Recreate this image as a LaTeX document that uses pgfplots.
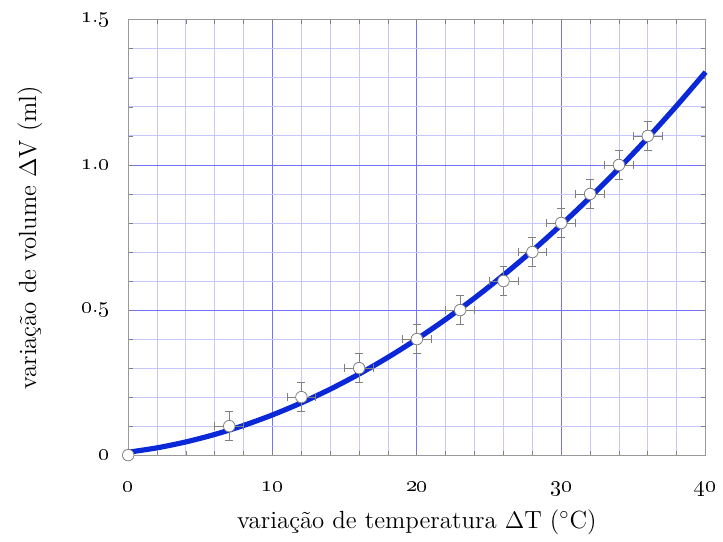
\documentclass[border=0pt]{standalone}
\usepackage{pgfplots}
\pgfplotsset{compat=1.18}
\definecolor{curveblue}{RGB}{10,40,215}
\pgfplotsset{common/.style={
  scale only axis,
  width=290.5pt, height=219pt,
  xmin=0, xmax=40, ymin=0, ymax=1.5,
  clip=false,
  axis line style={gray!80},
  xtick={0,10,20,30,40},
  ytick={0,0.5,1.0,1.5},
  minor x tick num=4, minor y tick num=4,
}}
\begin{document}
\begin{tikzpicture}
\begin{axis}[common,
  grid=both,
  major grid style={blue!55, line width=0.45pt},
  minor grid style={blue!22, line width=0.45pt},
  major tick length=0pt, minor tick length=0pt,
  xticklabels={}, yticklabels={},
]
\end{axis}
\begin{axis}[common,
  xticklabels={\oldstylenums{0},\oldstylenums{10},\oldstylenums{20},\oldstylenums{30},\oldstylenums{40}},
  yticklabels={\oldstylenums{0},\oldstylenums{0}.\oldstylenums{5},\oldstylenums{1}.\oldstylenums{0},\oldstylenums{1}.\oldstylenums{5}},
  tick style={gray, line width=0.4pt},
  major tick length=2.2pt, minor tick length=2.2pt,
  tick align=inside,
  xticklabel style={font=\fontsize{11}{12}\selectfont, yshift=-10pt},
  yticklabel style={font=\fontsize{11}{12}\selectfont, xshift=-6pt},
  xlabel={varia\c{c}\~ao de temperatura $\Delta$T ($^\circ$C)},
  ylabel={varia\c{c}\~ao de volume $\Delta$V (ml)},
  label style={font=\fontsize{12.5}{14}\selectfont},
  xlabel style={at={(axis description cs:0.5,0)}, anchor=north, yshift=-24pt},
  ylabel style={at={(axis description cs:0,0.5)}, anchor=center, yshift=49.5pt},
]
\addplot[curveblue, line width=2.6pt, smooth] coordinates {
(0,0.010) (2,0.0252) (4,0.0456) (6,0.0714) (8,0.1024) (10,0.1388)
(12,0.1804) (14,0.2274) (16,0.2796) (18,0.3372) (20,0.400) (22,0.4682)
(24,0.5416) (26,0.6204) (28,0.7044) (30,0.7938) (32,0.8884) (34,0.9884)
(36,1.0936) (38,1.2042) (40,1.320)
};
\addplot[only marks, mark=*, mark size=2.9pt, mark options={fill=white, draw=gray, line width=0.4pt},
  error bars/.cd, x dir=both, y dir=both, x explicit, y explicit,
  error bar style={gray, line width=0.4pt},
  error mark options={rotate=90, mark size=2pt, gray, line width=0.4pt}]
  coordinates {
  (7,0.1) +- (1,0.05)
  (12,0.2) +- (1,0.05)
  (16,0.3) +- (1,0.05)
  (20,0.4) +- (1,0.05)
  (23,0.5) +- (1,0.05)
  (26,0.6) +- (1,0.05)
  (28,0.7) +- (1,0.05)
  (30,0.8) +- (1,0.05)
  (32,0.9) +- (1,0.05)
  (34,1.0) +- (1,0.05)
  (36,1.1) +- (1,0.05)
};
\addplot[only marks, mark=*, mark size=2.9pt, mark options={fill=white, draw=gray, line width=0.4pt}]
  coordinates {(0,0)};
\path (rel axis cs:0,0) ++(-64.5pt,-38.5pt) coordinate (bbA);
\path (rel axis cs:1,1) ++(6.5pt,10pt) coordinate (bbB);
\end{axis}
\end{tikzpicture}
\end{document}
